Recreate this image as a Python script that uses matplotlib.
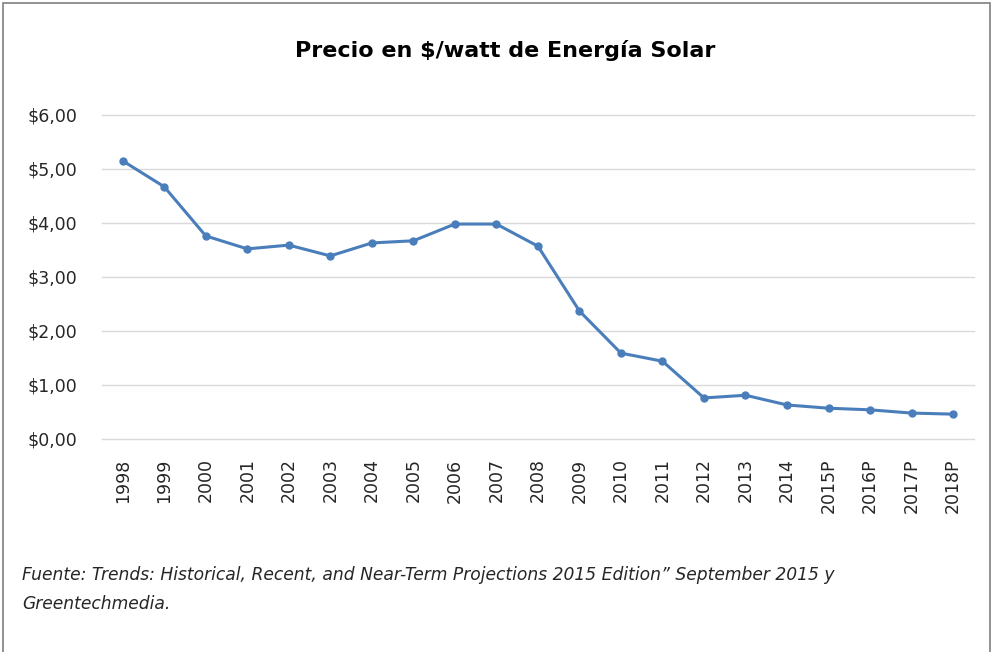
import matplotlib.pyplot as plt
from matplotlib.patches import Rectangle

years = ['1998', '1999', '2000', '2001', '2002', '2003', '2004', '2005', '2006', '2007',
         '2008', '2009', '2010', '2011', '2012', '2013', '2014', '2015P', '2016P', '2017P', '2018P']
prices = [5.15, 4.67, 3.76, 3.52, 3.59, 3.39, 3.63, 3.67, 3.98, 3.98,
          3.57, 2.37, 1.59, 1.44, 0.76, 0.81, 0.63, 0.57, 0.54, 0.48, 0.46]
yticks = [0, 1, 2, 3, 4, 5, 6]

title = 'Precio en $/watt de Energía Solar'
source = ('Fuente: Trends: Historical, Recent, and Near-Term Projections 2015 Edition\u201d September 2015 y\n'
          'Greentechmedia.')

fig = plt.figure(figsize=(9.93, 6.52), dpi=100)
fig.patches.append(Rectangle((0.003, -0.01), 0.994, 1.005, transform=fig.transFigure,
                             fill=False, edgecolor='#7f7f7f', linewidth=1.2))

ax = fig.add_axes([0.1027, 0.3267, 0.878, 0.497])
x = range(len(years))
ax.plot(x, prices, color='#4a7ebb', linewidth=2.2, marker='o', markersize=5)

ax.set_xlim(-0.5, len(years) - 0.5)
ax.set_ylim(0, 6)
ax.set_yticks(yticks)
ax.set_yticklabels(['${:.2f}'.format(v).replace('.', ',') for v in yticks],
                   fontsize=12.5, color='#262626')
ax.set_xticks(list(x))
ax.set_xticklabels(years, rotation=90, fontsize=12.5, color='#262626')
ax.tick_params(length=0)
ax.tick_params(axis='x', pad=14)
ax.tick_params(axis='y', pad=18)
ax.grid(axis='y', color='#d9d9d9', linewidth=1)
for gl in ax.get_ygridlines():
    gl.set_clip_on(False)
ax.set_axisbelow(True)
for s in ax.spines.values():
    s.set_visible(False)

fig.text(0.509, 0.923, title, ha='center', va='center', fontsize=16,
         fontweight='bold')
fig.text(0.022, 0.096, source, ha='left', va='center', fontsize=12.3, style='italic',
         color='#262626', linespacing=1.75)

fig.savefig('out.png', dpi=100)
